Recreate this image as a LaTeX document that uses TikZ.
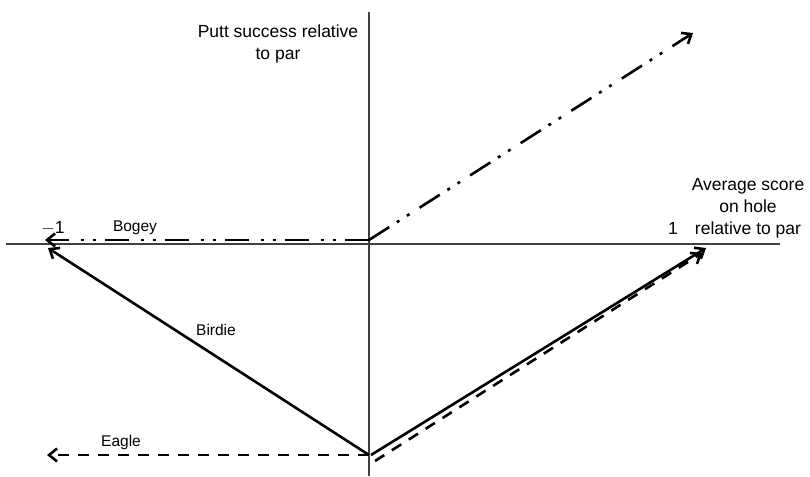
\documentclass[tikz,border=0pt]{standalone}
\usepackage{fontspec}
\setmainfont{Liberation Sans}
\usetikzlibrary{arrows.meta}
\begin{document}
\begin{tikzpicture}[x=1pt,y=-1pt,
  axis/.style={draw=black!75,line width=1.1pt},
  vec/.style={draw=black,line width=2.6pt,-{Straight Barb[length=8pt,width=13pt]}},
  dashdotdot/.style={dash pattern=on 24pt off 9pt on 3pt off 9pt on 3pt off 12pt},
  shortdash/.style={dash pattern=on 11pt off 9pt},
  biglabel/.style={font=\fontsize{17.5}{22}\selectfont,align=center,inner sep=0pt},
  smalllabel/.style={font=\fontsize{15.5}{18}\selectfont,inner sep=0pt}]
\useasboundingbox (0,0) rectangle (810,476);
% axes
\coordinate (xl) at (6,244);
\coordinate (xr) at (780,244);
\coordinate (yt) at (369,12);
\coordinate (yb) at (369,476);
\draw[axis] (xl) -- (xr);
\draw[axis] (yt) -- (yb);
% key points
\coordinate (O) at (369,240);
\coordinate (B) at (369,455);
\coordinate (Bd) at (375,461);
\coordinate (Bs) at (371,455);
\coordinate (bogeyEnd) at (45,240);
\coordinate (upEnd) at (693,33);
\coordinate (birdieEnd) at (48,248);
\coordinate (eagleEnd) at (47,455);
\coordinate (rightS) at (706,248);
\coordinate (rightD) at (702,253);
% vectors
\draw[vec,dashdotdot] (O) -- (bogeyEnd);
\draw[vec,dashdotdot] (O) -- (upEnd);
\draw[vec] (B) -- (birdieEnd);
\draw[vec,shortdash] (B) -- (eagleEnd);
\draw[vec] (Bs) -- (rightS);
\draw[vec,shortdash] (Bd) -- (rightD);
% labels
\node[biglabel] (putt) at (278,44) {Putt success relative\\to par};
\node[biglabel] (avg) at (748,208) {Average score\\on hole\\relative to par};
\node[biglabel] (one) at (673,228) {1};
\node[biglabel] (mone) at (53,228) {$-$1};
\node[smalllabel] (bogey) at (135,228) {Bogey};
\node[smalllabel] (birdie) at (216,330) {Birdie};
\node[smalllabel] (eagle) at (121,442) {Eagle};
\end{tikzpicture}
\end{document}
